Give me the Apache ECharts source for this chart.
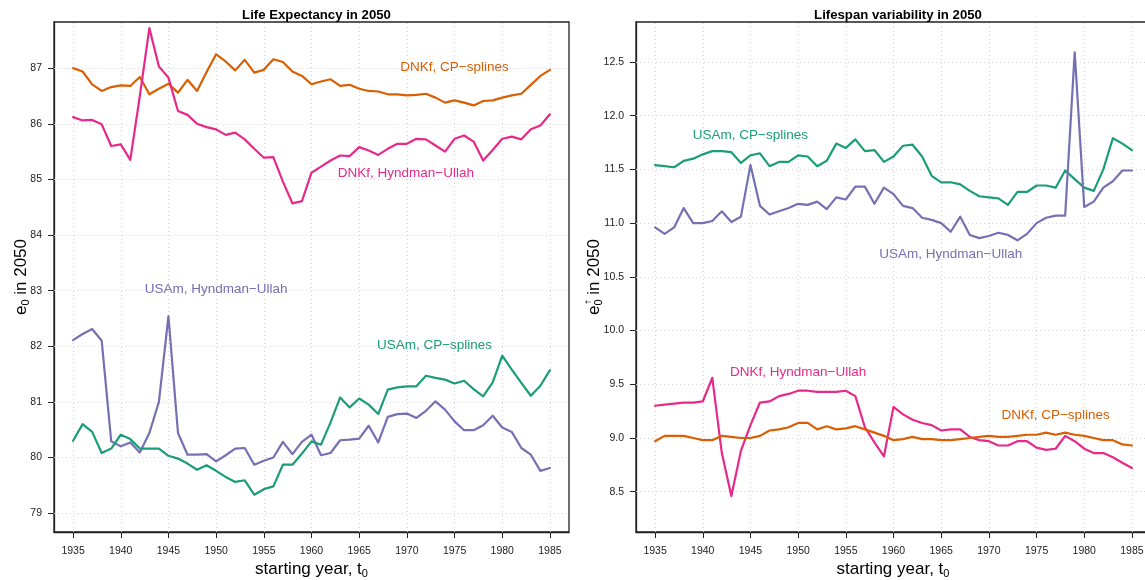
<!DOCTYPE html>
<html>
<head>
<meta charset="utf-8">
<script src="https://cdn.jsdelivr.net/npm/echarts@6/dist/echarts.min.js"></script>
<style>
    html, body { margin: 0; padding: 0; background: #fff; overflow: hidden; }
    #main { width: 1152px; height: 580px; }
</style>
</head>
<body>
<div id="main"></div>
<script>
// starting years
var years = [1935, 1936, 1937, 1938, 1939, 1940, 1941, 1942, 1943, 1944, 1945, 1946, 1947, 1948, 1949,
    1950, 1951, 1952, 1953, 1954, 1955, 1956, 1957, 1958, 1959, 1960, 1961, 1962, 1963, 1964, 1965,
    1966, 1967, 1968, 1969, 1970, 1971, 1972, 1973, 1974, 1975, 1976, 1977, 1978, 1979, 1980, 1981,
    1982, 1983, 1984, 1985];

// life expectancy in 2050
var leDnkCp = [87.00, 86.94, 86.71, 86.59, 86.66, 86.69, 86.68, 86.84, 86.53, 86.63, 86.72, 86.56, 86.79, 86.59, 86.93,
    87.25, 87.12, 86.96, 87.15, 86.92, 86.97, 87.16, 87.11, 86.94, 86.86, 86.71, 86.76, 86.80, 86.68, 86.70, 86.63,
    86.59, 86.58, 86.53, 86.53, 86.51, 86.52, 86.54, 86.47, 86.38, 86.42, 86.38, 86.33, 86.41, 86.42, 86.47, 86.51,
    86.54, 86.70, 86.86, 86.97];
var leDnkHu = [86.12, 86.06, 86.07, 85.99, 85.60, 85.63, 85.35, 86.50, 87.72, 87.03, 86.83, 86.23, 86.16, 86.00, 85.94,
    85.90, 85.80, 85.84, 85.72, 85.55, 85.39, 85.40, 84.96, 84.57, 84.61, 85.12, 85.23, 85.34, 85.43, 85.42, 85.58,
    85.52, 85.44, 85.55, 85.64, 85.64, 85.73, 85.72, 85.61, 85.50, 85.73, 85.79, 85.68, 85.34, 85.53, 85.73, 85.77,
    85.72, 85.90, 85.97, 86.17];
var leUsaHu = [82.11, 82.22, 82.31, 82.10, 80.29, 80.20, 80.27, 80.09, 80.44, 81.00, 82.54, 80.44, 80.05, 80.05, 80.06,
    79.93, 80.04, 80.16, 80.17, 79.87, 79.94, 80.00, 80.28, 80.06, 80.28, 80.41, 80.04, 80.08, 80.31, 80.32, 80.34,
    80.57, 80.27, 80.73, 80.78, 80.79, 80.71, 80.84, 81.01, 80.86, 80.65, 80.49, 80.49, 80.58, 80.75, 80.54, 80.46,
    80.17, 80.05, 79.76, 79.81];
var leUsaCp = [80.30, 80.60, 80.46, 80.08, 80.16, 80.41, 80.33, 80.16, 80.16, 80.16, 80.03, 79.98, 79.89, 79.78, 79.86,
    79.76, 79.65, 79.56, 79.59, 79.33, 79.43, 79.48, 79.87, 79.87, 80.07, 80.29, 80.23, 80.63, 81.08, 80.90, 81.06,
    80.95, 80.78, 81.22, 81.26, 81.28, 81.28, 81.47, 81.43, 81.40, 81.33, 81.38, 81.23, 81.10, 81.35, 81.83, 81.58,
    81.34, 81.11, 81.29, 81.57];

// lifespan variability in 2050
var lvUsaCp = [11.54, 11.53, 11.52, 11.58, 11.60, 11.64, 11.67, 11.67, 11.66, 11.56, 11.63, 11.65, 11.53, 11.57, 11.57,
    11.63, 11.62, 11.53, 11.58, 11.74, 11.70, 11.78, 11.67, 11.68, 11.57, 11.62, 11.72, 11.73, 11.62, 11.44, 11.38,
    11.38, 11.36, 11.30, 11.25, 11.24, 11.23, 11.17, 11.29, 11.29, 11.35, 11.35, 11.33, 11.49, 11.41, 11.33, 11.30,
    11.50, 11.79, 11.74, 11.68];
var lvUsaHu = [10.96, 10.90, 10.96, 11.14, 11.00, 11.00, 11.02, 11.11, 11.01, 11.06, 11.54, 11.16, 11.08, 11.11, 11.14,
    11.18, 11.17, 11.20, 11.13, 11.24, 11.22, 11.34, 11.34, 11.18, 11.33, 11.27, 11.16, 11.14, 11.05, 11.03, 11.00,
    10.92, 11.06, 10.89, 10.86, 10.88, 10.91, 10.89, 10.84, 10.90, 11.00, 11.05, 11.07, 11.07, 12.59, 11.15, 11.20,
    11.33, 11.39, 11.49, 11.49];
var lvDnkHu = [9.30, 9.31, 9.32, 9.33, 9.33, 9.34, 9.56, 8.86, 8.46, 8.88, 9.12, 9.33, 9.34, 9.39, 9.41,
    9.44, 9.44, 9.43, 9.43, 9.43, 9.44, 9.39, 9.10, 8.96, 8.83, 9.29, 9.22, 9.17, 9.14, 9.12, 9.07,
    9.08, 9.08, 9.01, 8.98, 8.97, 8.93, 8.93, 8.97, 8.97, 8.91, 8.89, 8.90, 9.02, 8.97, 8.90, 8.86,
    8.86, 8.82, 8.77, 8.72];
var lvDnkCp = [8.97, 9.02, 9.02, 9.02, 9.00, 8.98, 8.98, 9.02, 9.01, 9.00, 9.00, 9.02, 9.07, 9.08, 9.10,
    9.14, 9.14, 9.08, 9.11, 9.08, 9.09, 9.11, 9.08, 9.05, 9.02, 8.98, 8.99, 9.01, 8.99, 8.99, 8.98,
    8.98, 8.99, 9.00, 9.01, 9.02, 9.01, 9.01, 9.02, 9.03, 9.03, 9.05, 9.03, 9.05, 9.03, 9.02, 9.00,
    8.98, 8.98, 8.94, 8.93];

// tick labels
var xTicks = [1935, 1940, 1945, 1950, 1955, 1960, 1965, 1970, 1975, 1980, 1985];
var leTicks = [79, 80, 81, 82, 83, 84, 85, 86, 87];
var lvTicks = [8.5, 9.0, 9.5, 10.0, 10.5, 11.0, 11.5, 12.0, 12.5];

var COL = {orange: '#D95F02', pink: '#E7298A', purple: '#7570B3', green: '#1B9E77'};
var FONT = 'Liberation Sans, Arial, Helvetica, sans-serif';

var myChart = echarts.init(document.getElementById('main'), null, {renderer: 'canvas'});

var pairs = function (vals) {
    var out = [];
    for (var i = 0; i < years.length; i++) {
        out.push([years[i], vals[i]]);
    }
    return out;
};

// 曲线 + 文字标注
var makeSeries = function (idx, vals, color, label, at) {
    return {
        type: 'line',
        xAxisIndex: idx,
        yAxisIndex: idx,
        z: 3,
        data: pairs(vals),
        showSymbol: false,
        symbol: 'none',
        silent: true,
        lineStyle: {color: color, width: 2.2, cap: 'round', join: 'round'},
        markPoint: {
            symbol: 'circle',
            symbolSize: 0,
            silent: true,
            data: [{
                coord: at,
                label: {
                    show: true,
                    position: 'inside',
                    formatter: label,
                    color: color,
                    fontSize: 13.5,
                    fontFamily: FONT
                }
            }]
        }
    };
};

// 网格虚线（按刻度画）
var gridSeries = function (idx, yTicks) {
    var lines = [];
    xTicks.forEach(function (v) { lines.push({xAxis: v}); });
    yTicks.forEach(function (v) { lines.push({yAxis: v}); });
    return {
        type: 'line',
        xAxisIndex: idx,
        yAxisIndex: idx,
        z: 1,
        data: [],
        silent: true,
        markLine: {
            z: 1,
            silent: true,
            symbol: ['none', 'none'],
            label: {show: false},
            lineStyle: {color: '#d4d4d4', width: 1, type: [1, 3]},
            emphasis: {disabled: true},
            data: lines
        }
    };
};

var xAxisOf = function (idx) {
    return {
        type: 'value',
        gridIndex: idx,
        min: 1933,
        max: 1987,
        axisLine: {show: true, onZero: false, lineStyle: {color: '#222', width: 1.3}},
        axisTick: {show: true, length: 6, customValues: xTicks, lineStyle: {color: '#222', width: 1}},
        axisLabel: {
            customValues: xTicks, margin: 14, fontSize: 10.5, color: '#222', fontFamily: FONT,
            formatter: function (v) { return String(v); }
        },
        splitLine: {show: false}
    };
};

var yAxisOf = function (idx, min, max, ticks, digits) {
    return {
        type: 'value',
        gridIndex: idx,
        min: min,
        max: max,
        axisLine: {show: true, onZero: false, lineStyle: {color: '#222', width: 1.3}},
        axisTick: {show: true, length: 6, customValues: ticks, lineStyle: {color: '#222', width: 1}},
        axisLabel: {
            customValues: ticks, margin: 12, fontSize: 10.5, color: '#222', fontFamily: FONT,
            formatter: function (v) { return v.toFixed(digits); }
        },
        splitLine: {show: false}
    };
};

var axisName = function (x, y, rot, text, dagger) {
    var rich = {
        m: {fontSize: 17, fontFamily: FONT, color: '#111', lineHeight: 20},
        s: {fontSize: 11, fontFamily: FONT, color: '#111', lineHeight: 4, verticalAlign: 'bottom'}
    };
    var children = [{
        type: 'text',
        style: {text: text, rich: rich, align: 'center', verticalAlign: 'middle', x: 0, y: 0}
    }];
    if (dagger) {
        children.push({
            type: 'text',
            style: {text: '\u2020', fontSize: 8, fontFamily: FONT, fill: '#111',
                align: 'center', verticalAlign: 'middle', x: -25, y: -6}
        });
    }
    return {type: 'group', x: x, y: y, rotation: rot, silent: true, children: children};
};

var option = {
    backgroundColor: '#fff',
    animation: false,
    title: [{
        text: 'Life Expectancy in 2050',
        left: 311.5, top: 4, textAlign: 'center',
        textStyle: {fontSize: 13.2, fontWeight: 'bold', color: '#000', fontFamily: FONT}
    }, {
        text: 'Lifespan variability in 2050',
        left: 893, top: 4, textAlign: 'center',
        textStyle: {fontSize: 13.2, fontWeight: 'bold', color: '#000', fontFamily: FONT}
    }],
    grid: [
        {left: 54, top: 22, width: 515, height: 510, show: true, borderColor: '#222', borderWidth: 1.3, backgroundColor: 'transparent'},
        {left: 636, top: 22, width: 515, height: 510, show: true, borderColor: '#222', borderWidth: 1.3, backgroundColor: 'transparent'}
    ],
    xAxis: [xAxisOf(0), xAxisOf(1)],
    yAxis: [yAxisOf(0, 78.66, 87.83, leTicks, 0), yAxisOf(1, 8.125, 12.872, lvTicks, 1)],
    series: [
        gridSeries(0, leTicks),
        gridSeries(1, lvTicks),
        makeSeries(0, leDnkCp, COL.orange, 'DNKf, CP\u2212splines', [1975, 87.02]),
        makeSeries(0, leDnkHu, COL.pink, 'DNKf, Hyndman\u2212Ullah', [1969.9, 85.11]),
        makeSeries(0, leUsaHu, COL.purple, 'USAm, Hyndman\u2212Ullah', [1950, 83.03]),
        makeSeries(0, leUsaCp, COL.green, 'USAm, CP\u2212splines', [1972.9, 82.01]),
        makeSeries(1, lvUsaCp, COL.green, 'USAm, CP\u2212splines', [1945, 11.82]),
        makeSeries(1, lvUsaHu, COL.purple, 'USAm, Hyndman\u2212Ullah', [1966, 10.71]),
        makeSeries(1, lvDnkHu, COL.pink, 'DNKf, Hyndman\u2212Ullah', [1950, 9.61]),
        makeSeries(1, lvDnkCp, COL.orange, 'DNKf, CP\u2212splines', [1977, 9.21])
    ],
    graphic: [
        axisName(21, 277, Math.PI / 2, '{m|e}{s|0}{m| in 2050}', false),
        axisName(594, 277, Math.PI / 2, '{m|e}{s|0}{m| in 2050}', true),
        axisName(311.5, 569, 0, '{m|starting year, t}{s|0}', false),
        axisName(893, 569, 0, '{m|starting year, t}{s|0}', false)
    ]
};

myChart.setOption(option);
</script>
</body>
</html>
